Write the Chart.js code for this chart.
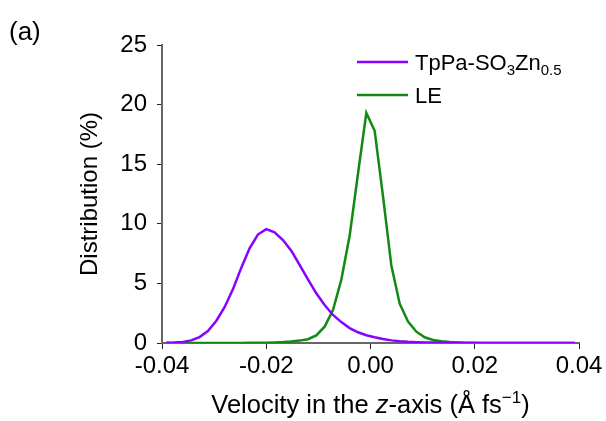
<!DOCTYPE html>
<html>
<head>
<meta charset="utf-8">
<script src="https://cdn.jsdelivr.net/npm/chart.js@4"></script>
<style>
  html, body { margin: 0; padding: 0; background: #fff; }
  #wrap { width: 606px; height: 421px; }
</style>
</head>
<body>
<div id="wrap"><canvas id="velChart" width="606" height="421"></canvas></div>
<script>
// Bin centres of the z-velocity histogram (Å fs^-1)
const velocity = [
  -0.0392, -0.0376, -0.0360, -0.0344, -0.0328, -0.0312, -0.0296, -0.0280, -0.0264, -0.0248,
  -0.0232, -0.0216, -0.0200, -0.0184, -0.0168, -0.0152, -0.0136, -0.0120, -0.0104, -0.0088,
  -0.0072, -0.0056, -0.0040, -0.0024, -0.0008, 0.0008, 0.0024, 0.0040, 0.0056, 0.0072,
  0.0088, 0.0104, 0.0120, 0.0136, 0.0152, 0.0168, 0.0184, 0.0200, 0.0216, 0.0232,
  0.0248, 0.0264, 0.0280, 0.0296, 0.0312, 0.0328, 0.0344, 0.0360, 0.0376, 0.0392
];

// Distribution (%) - TpPa-SO3Zn0.5
const tppaValues = [
  0.02, 0.04, 0.09, 0.22, 0.50, 1.00, 1.85, 3.00, 4.50, 6.30,
  7.95, 9.10, 9.55, 9.28, 8.64, 7.75, 6.55, 5.34, 4.17, 3.19,
  2.35, 1.75, 1.25, 0.90, 0.65, 0.48, 0.33, 0.22, 0.15, 0.10,
  0.07, 0.05, 0.04, 0.03, 0.02, 0.02, 0.01, 0.01, 0.01, 0.01,
  0.01, 0.00, 0.00, 0.00, 0.00, 0.00, 0.00, 0.00, 0.00, 0.00
];

// Distribution (%) - LE
const leValues = [
  0.00, 0.00, 0.00, 0.00, 0.00, 0.00, 0.00, 0.01, 0.01, 0.01,
  0.02, 0.02, 0.03, 0.05, 0.08, 0.13, 0.20, 0.32, 0.64, 1.37,
  2.77, 5.30, 9.00, 14.20, 19.30, 17.80, 12.30, 6.50, 3.30, 1.80,
  0.95, 0.48, 0.25, 0.14, 0.08, 0.05, 0.03, 0.02, 0.01, 0.01,
  0.01, 0.00, 0.00, 0.00, 0.00, 0.00, 0.00, 0.00, 0.00, 0.00
];

const xTicks = [-0.04, -0.02, 0.00, 0.02, 0.04];
const yTicks = [0, 5, 10, 15, 20, 25];

const purple = '#8800ff';
const green = '#118a11';
const FONT = 'Arial, "Liberation Sans", sans-serif';

// draw a row of text pieces (for sub/superscripts and italics)
function drawRich(ctx, parts, x, y, align) {
  let total = 0;
  parts.forEach(p => { ctx.font = p.font; total += ctx.measureText(p.text).width; });
  let cx = align === 'center' ? x - total / 2 : x;
  ctx.textAlign = 'left';
  ctx.textBaseline = 'alphabetic';
  parts.forEach(p => {
    ctx.font = p.font;
    ctx.fillText(p.text, cx, y + (p.dy || 0));
    cx += ctx.measureText(p.text).width;
  });
}

const extrasPlugin = {
  id: 'extras',
  afterDraw(chart) {
    const ctx = chart.ctx;
    const xs = chart.scales.x;
    ctx.save();
    ctx.fillStyle = '#000';

    // panel letter
    ctx.font = '26px ' + FONT;
    ctx.textAlign = 'left';
    ctx.textBaseline = 'alphabetic';
    ctx.fillText('(a)', 9, 40);

    // x axis title
    const big = '25.5px ' + FONT;
    drawRich(ctx, [
      { text: 'Velocity in the ', font: big },
      { text: 'z', font: 'italic ' + big },
      { text: '-axis (Å fs', font: big },
      { text: '\u22121', font: '17px ' + FONT, dy: -10 },
      { text: ')', font: big }
    ], (xs.left + xs.right) / 2, 413, 'center');

    // legend
    const lf = '22px ' + FONT;
    const sf = '15px ' + FONT;
    const rows = [
      { color: purple, y: 62, parts: [
        { text: 'TpPa-SO', font: lf }, { text: '3', font: sf, dy: 5 },
        { text: 'Zn', font: lf }, { text: '0.5', font: sf, dy: 5 }] },
      { color: green, y: 95, parts: [{ text: 'LE', font: lf }] }
    ];
    rows.forEach(r => {
      ctx.strokeStyle = r.color;
      ctx.lineWidth = 2.5;
      ctx.beginPath();
      ctx.moveTo(357, r.y);
      ctx.lineTo(408, r.y);
      ctx.stroke();
      drawRich(ctx, r.parts, 415, r.y + 8, 'left');
    });
    ctx.restore();
  }
};

const ctx = document.getElementById('velChart');
new Chart(ctx, {
  type: 'line',
  data: {
    datasets: [
      {
        label: 'TpPa-SO3Zn0.5',
        data: velocity.map((v, i) => ({ x: v, y: tppaValues[i] })),
        borderColor: purple,
        borderWidth: 2.5,
        pointRadius: 0,
        tension: 0,
        fill: false
      },
      {
        label: 'LE',
        data: velocity.map((v, i) => ({ x: v, y: leValues[i] })),
        borderColor: green,
        borderWidth: 2.5,
        pointRadius: 0,
        tension: 0,
        fill: false
      }
    ]
  },
  options: {
    responsive: false,
    animation: false,
    layout: { padding: { top: 45, right: 27, left: 0, bottom: 0 } },
    plugins: {
      legend: { display: false },
      tooltip: { enabled: false }
    },
    scales: {
      x: {
        type: 'linear',
        min: -0.04,
        max: 0.04,
        afterBuildTicks: axis => { axis.ticks = xTicks.map(v => ({ value: v })); },
        afterFit: axis => { axis.height = 421 - 343; },
        ticks: {
          color: '#000',
          font: { size: 24, family: FONT },
          padding: 3,
          maxRotation: 0,
          callback: v => v.toFixed(2)
        },
        grid: { display: true, drawOnChartArea: false, drawTicks: true, tickLength: 6, color: '#222', lineWidth: 1 },
        border: { display: true, color: '#666', width: 2 },
        title: { display: false }
      },
      y: {
        min: 0,
        max: 25,
        afterBuildTicks: axis => { axis.ticks = yTicks.map(v => ({ value: v })); },
        afterFit: axis => { axis.width = 162; },
        ticks: {
          color: '#000',
          font: { size: 24, family: FONT },
          padding: 10
        },
        grid: { display: true, drawOnChartArea: false, drawTicks: true, tickLength: 5, color: '#222', lineWidth: 1 },
        border: { display: true, color: '#666', width: 2 },
        title: {
          display: true,
          text: 'Distribution (%)',
          color: '#000',
          font: { size: 24, family: FONT },
          padding: { top: 76, bottom: 0 }
        }
      }
    }
  },
  plugins: [extrasPlugin]
});
</script>
</body>
</html>
